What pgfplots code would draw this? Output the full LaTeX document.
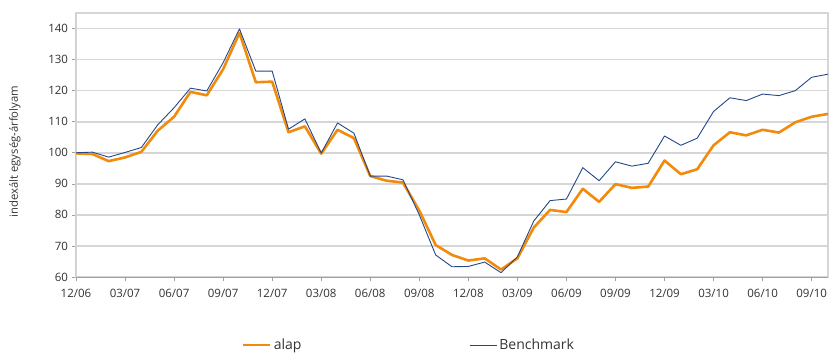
\documentclass[border=0pt]{standalone}
\usepackage{fontspec}
\setmainfont{Open Sans}
\usepackage{pgfplots}
\pgfplotsset{compat=1.18}
\usepackage{pgfplotstable}
\definecolor{alapc}{HTML}{F28A0C}
\definecolor{benchc}{HTML}{22488A}
\definecolor{gridc}{HTML}{D6D6D6}
\definecolor{axc}{HTML}{A0A0A0}
\definecolor{txtc}{HTML}{333333}
\pgfplotstableread{
i alap bench
0 99.8 100.0
1 99.6 100.2
2 97.3 98.6
3 98.5 100.1
4 100.3 101.7
5 107.1 109.0
6 111.6 114.5
7 119.6 120.8
8 118.5 119.9
9 126.9 129.0
10 138.6 139.9
11 122.7 126.3
12 122.9 126.3
13 106.6 107.6
14 108.5 110.9
15 99.7 99.9
16 107.4 109.6
17 104.7 106.3
18 92.5 92.5
19 91.0 92.5
20 90.4 91.3
21 81.4 80.0
22 70.3 67.1
23 67.1 63.3
24 65.3 63.4
25 66.0 64.8
26 62.4 61.4
27 66.0 66.5
28 75.9 78.0
29 81.6 84.6
30 80.9 85.1
31 88.4 95.2
32 84.2 91.0
33 89.9 97.1
34 88.7 95.7
35 89.1 96.6
36 97.5 105.4
37 93.1 102.4
38 94.7 104.7
39 102.4 113.3
40 106.6 117.7
41 105.6 116.8
42 107.4 118.9
43 106.5 118.4
44 109.8 120.0
45 111.6 124.3
46 112.5 125.3
}\data
\begin{document}
\begin{tikzpicture}[font=\fontsize{11.5bp}{13bp}\selectfont]
\useasboundingbox (-76bp,-76bp) rectangle (753bp,277bp);
\begin{axis}[
  scale only axis,
  width=752bp, height=264bp,
  xmin=0, xmax=46, ymin=60, ymax=145,
  axis lines=box,
  axis line style={gridc, line width=1.2bp},
  xtick={0,3,...,45},
  xticklabels={12/06,03/07,06/07,09/07,12/07,03/08,06/08,09/08,12/08,03/09,06/09,09/09,12/09,03/10,06/10,09/10},
  ytick={60,70,...,140},
  ymajorgrids,
  major grid style={gridc, line width=1.6bp},
  tick align=outside,
  xtick pos=bottom, ytick pos=left,
  major tick length=3.5bp,
  tick style={axc, line width=0.6bp},
  tick label style={text=txtc, font=\fontsize{11.5bp}{13bp}\selectfont},
  ylabel={indexált egység-árfolyam},
  every axis y label/.style={at={(axis description cs:-0.0811,0.475)}, rotate=90, anchor=center, text=txtc, font=\fontsize{11.3bp}{13bp}\selectfont},
  xticklabel style={yshift=-5bp},
  yticklabel style={xshift=-1bp},
  /pgf/number format/assume math mode=true,
  legend columns=2,
  legend style={at={(axis description cs:0.2207,-0.2576)}, anchor=west, draw=none, fill=none, inner sep=0pt,
    font=\fontsize{14bp}{16bp}\selectfont,
    /tikz/every even column/.append style={column sep=166bp}, text=txtc},
  legend image code/.code={\draw[#1] (0bp,0bp) -- (27bp,0bp);},
]
\addplot[alapc, line width=2.6bp, line join=round] table[x=i, y=alap] {\data};
\addlegendentry{alap}
\addplot[benchc, line width=0.9bp, line join=round] table[x=i, y=bench] {\data};
\addlegendentry{Benchmark}
\draw[axc, line width=1bp] (rel axis cs:0,0) -- (rel axis cs:0,1);
\draw[axc, line width=1bp] (rel axis cs:0,0) -- (rel axis cs:1,0);
\end{axis}
\end{tikzpicture}
\end{document}
